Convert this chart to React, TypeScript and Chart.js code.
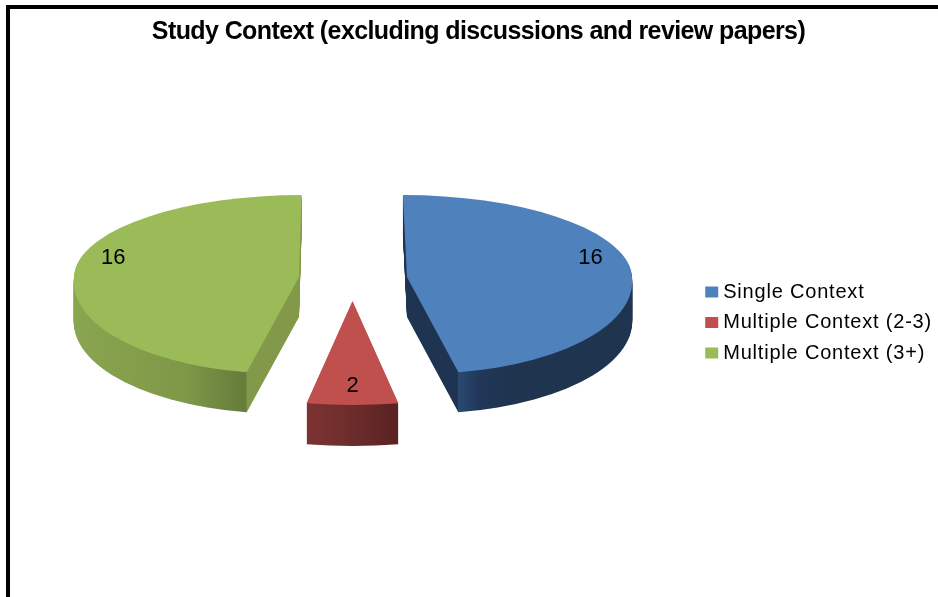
import React, { useEffect, useRef } from "react";
import { Chart, registerables } from "chart.js";

Chart.register(...registerables);

const titleText = "Study Context (excluding discussions and review papers)";
const categories = ["Single Context", "Multiple Context (2-3)", "Multiple Context (3+)"];
const values = [16, 2, 16];
const topColors = ["#4f81bd", "#c0504d", "#9bbb59"];

// canvas origin inside the page
const ORIGIN_X = 10;
const ORIGIN_Y = 9;
const LEGEND_SPACING = "0.8px";
const TITLE_SPACING = "-0.6px";

type Look = {
  ax: number; ay: number; sx: number; syTop: number; syBottom: number;
  shearTop: number; shearBottom: number; depth: number;
  side: [number, string][]; sideFrom: number; sideTo: number; labelDy: number; labelFrac: number;
};

const looks: Look[] = [
  {
    ax: 407, ay: 277, sx: 1, syTop: 82 / 225, syBottom: 97 / 225, shearTop: 0.05, shearBottom: 0.105, depth: 40,
    sideFrom: 400, sideTo: 640,
    side: [[0, "#1e3450"], [0.241, "#1e3450"], [0.242, "#2b4a70"], [0.33, "#20375a"], [0.45, "#1f344f"], [1, "#1f344f"]],
    labelDy: -13, labelFrac: 0.82,
  },
  {
    ax: 352.5, ay: 301, sx: 1.11, syTop: 0.4, syBottom: 104 / 225, shearTop: 0, shearBottom: 0, depth: 41,
    sideFrom: 306, sideTo: 399,
    side: [[0, "#7c3331"], [0.5, "#6c2c2b"], [1, "#5a2221"]],
    labelDy: 0, labelFrac: 0.82,
  },
  {
    ax: 299, ay: 277, sx: 1, syTop: 82 / 225, syBottom: 97 / 225, shearTop: -0.03, shearBottom: -0.115, depth: 40,
    sideFrom: 70, sideTo: 305,
    side: [[0, "#8aa650"], [0.5, "#7e9748"], [0.75, "#657b3a"], [0.752, "#83994a"], [1, "#83994a"]],
    labelDy: -13, labelFrac: 0.83,
  },
];

const applyLook = (ctx: CanvasRenderingContext2D, arc: any, l: Look, part: "top" | "bottom", drop: number) => {
  const sy = part === "top" ? l.syTop : l.syBottom;
  const shear = part === "top" ? l.shearTop : l.shearBottom;
  const ax = l.ax - ORIGIN_X;
  const ay = l.ay - ORIGIN_Y + drop;
  ctx.beginPath();
  if (part === "top") ctx.rect(0, 0, ctx.canvas.width, ay);
  else ctx.rect(0, ay, ctx.canvas.width, ctx.canvas.height - ay);
  ctx.clip();
  const { x, y } = arc.getProps(["x", "y"], true);
  ctx.transform(l.sx, 0, shear * sy, sy, ax - l.sx * x - shear * sy * y, ay - sy * y);
};

const drawSlice = (ctx: CanvasRenderingContext2D, arc: any, l: Look, drop: number) => {
  (["top", "bottom"] as const).forEach((part) => {
    ctx.save();
    applyLook(ctx, arc, l, part, drop);
    arc.draw(ctx);
    ctx.restore();
  });
};

const pie3d = {
  id: "pie3d",
  beforeUpdate(chart: any) {
    chart.ctx.letterSpacing = LEGEND_SPACING;
  },
  beforeDraw(chart: any) {
    const ctx = chart.ctx;
    ctx.letterSpacing = LEGEND_SPACING;
    const t = chart.titleBlock;
    if (t && !t.__wrapped) {
      const original = t.draw.bind(t);
      t.draw = (area: any) => {
        ctx.letterSpacing = TITLE_SPACING;
        original(area);
        ctx.letterSpacing = LEGEND_SPACING;
      };
      t.__wrapped = true;
    }
  },
  beforeDatasetsDraw(chart: any) {
    const main: CanvasRenderingContext2D = chart.ctx;
    const arcs = chart.getDatasetMeta(0).data;
    arcs.forEach((arc: any, i: number) => {
      const l = looks[i];
      const off = document.createElement("canvas");
      off.width = chart.canvas.width;
      off.height = chart.canvas.height;
      const o = off.getContext("2d") as CanvasRenderingContext2D;
      for (let d = l.depth; d >= 1; d--) drawSlice(o, arc, l, d);
      o.globalCompositeOperation = "source-atop";
      const g = o.createLinearGradient(l.sideFrom - ORIGIN_X, 0, l.sideTo - ORIGIN_X, 0);
      l.side.forEach(([s, c]) => g.addColorStop(s, c));
      o.fillStyle = g;
      o.fillRect(0, 0, off.width, off.height);
      main.drawImage(off, 0, 0);
      drawSlice(main, arc, l, 0);
    });
    main.save();
    main.font = "22px 'Liberation Sans'";
    main.letterSpacing = "0px";
    main.fillStyle = "#000";
    main.textAlign = "center";
    main.textBaseline = "middle";
    arcs.forEach((arc: any, i: number) => {
      const l = looks[i];
      const mid = (arc.startAngle + arc.endAngle) / 2;
      const r = arc.outerRadius * l.labelFrac;
      const dx = Math.cos(mid) * r;
      const dy = Math.sin(mid) * r;
      const sy = dy < 0 ? l.syTop : l.syBottom;
      const shear = dy < 0 ? l.shearTop : l.shearBottom;
      main.fillText(
        String(values[i]),
        l.ax - ORIGIN_X + l.sx * dx + shear * sy * dy,
        l.ay - ORIGIN_Y + sy * dy + l.labelDy
      );
    });
    main.restore();
    return false;
  },
};

export default function App() {
  const ref = useRef<HTMLCanvasElement>(null);
  useEffect(() => {
    if (!ref.current) return;
    const chart = new Chart(ref.current, {
      type: "pie",
      data: {
        labels: categories,
        datasets: [{ data: values, backgroundColor: topColors, borderWidth: 0 }],
      },
      plugins: [pie3d],
      options: {
        responsive: false,
        animation: false,
        radius: 225,
        layout: { padding: { left: 5, right: 10 } },
        plugins: {
          tooltip: { enabled: false },
          title: {
            display: true,
            text: titleText,
            color: "#000",
            font: { family: "'Liberation Sans'", size: 25, weight: "bold" },
            padding: { top: 8, bottom: 0 },
          },
          legend: {
            position: "right",
            labels: {
              color: "#000",
              boxWidth: 3,
              boxHeight: 1,
              padding: 10.5,
              font: { family: "'Liberation Sans'", size: 20 },
              generateLabels: () =>
                categories.map((text, i) => ({
                  text,
                  fillStyle: topColors[i],
                  strokeStyle: topColors[i],
                  lineWidth: 10,
                  index: i,
                  fontColor: "#000",
                })),
            },
          },
        },
      } as any,
    });
    return () => chart.destroy();
  }, []);
  return (
    <div style={{ position: "fixed", inset: 0, overflow: "hidden", background: "#fff" }}>
      <div style={{ position: "absolute", left: 6, top: 5, width: 942, height: 800, border: "4px solid #000" }}>
        <canvas ref={ref} width={942} height={627} style={{ display: "block" }} />
      </div>
    </div>
  );
}
